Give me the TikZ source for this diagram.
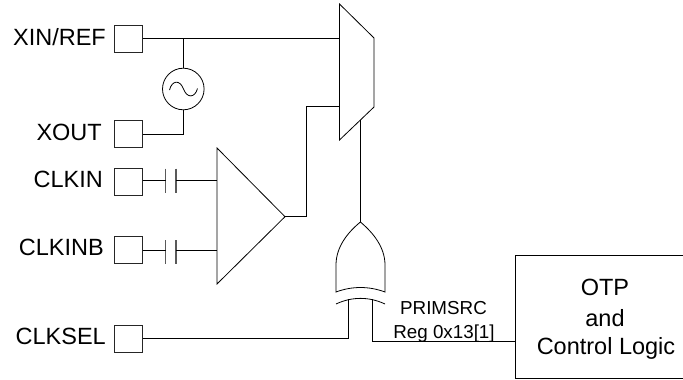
\documentclass[tikz,border=0pt]{standalone}
\usepackage{fontspec}
\setmainfont{Liberation Sans}
\begin{document}
\begin{tikzpicture}[x=1pt,y=-1pt,
  wire/.style={line width=0.8pt,black,line join=miter},
  plate/.style={line width=1.1pt,black!65},
  pad/.style={draw,line width=0.8pt,black!85,rectangle,minimum width=28pt,minimum height=27pt,inner sep=0pt},
  pinlabel/.style={anchor=base east,inner sep=0pt,font=\fontsize{23.5pt}{28pt}\selectfont},
  reglabel/.style={anchor=base,inner sep=0pt,font=\fontsize{18.8pt}{22pt}\selectfont},
  bigtext/.style={anchor=base,inner sep=0pt,font=\fontsize{23.5pt}{28pt}\selectfont}]
\clip (0,0) rectangle (683,380);
\fill[white] (0,0) rectangle (683,380);
% pads
\node[pad] (xin) at (128.5,39) {};
\node[pad] (xout) at (128.5,134.3) {};
\node[pad] (clkin) at (128.5,182) {};
\node[pad] (clkinb) at (128.5,250) {};
\node[pad] (clksel) at (128.5,338.7) {};
% labels
\node[pinlabel] (lxin) at (106,45) {XIN/REF};
\node[pinlabel] (lxout) at (102,140) {XOUT};
\node[pinlabel] (lclkin) at (103,187.7) {CLKIN};
\node[pinlabel] (lclkinb) at (104,255) {CLKINB};
\node[pinlabel] (lclksel) at (106,344) {CLKSEL};
% oscillator
\node[draw,circle,line width=0.8pt,minimum size=41.6pt,inner sep=0pt] (osc) at (183.3,89) {};
\draw[wire] (169.5,90) .. controls (172,80) and (180,79.5) .. (183.5,89) .. controls (187,98.5) and (195,98) .. (197.5,88.5);
% mux
\coordinate (muxin1) at (339.5,38.5);
\coordinate (muxin2) at (339.5,106.7);
\coordinate (muxsel) at (360.3,120);
\draw[wire] (339.5,4) -- (374,38) -- (374,107) -- (339.5,140) -- cycle;
% amplifier
\coordinate (ampin1) at (217,180);
\coordinate (ampin2) at (217,250.3);
\coordinate (ampout) at (285,216.7);
\draw[wire] (217,148) -- (ampout) -- (217,284) -- cycle;
% capacitors
\coordinate (c1a) at (165.7,180); \coordinate (c1b) at (176,180);
\coordinate (c2a) at (165.7,250.3); \coordinate (c2b) at (176,250.3);
\draw[plate] (165.7,168.5) -- (165.7,192.7) (176,168.5) -- (176,192.7);
\draw[plate] (165.7,240) -- (165.7,264) (176,240) -- (176,264);
% xor gate
\coordinate (xortip) at (360.4,222);
\coordinate (xorin1) at (348.3,299);
\coordinate (xorin2) at (372.7,299);
\draw[wire] (336,292) -- (336,264) .. controls (336.5,247) and (347,233) .. (xortip)
  .. controls (373.5,233) and (384.5,247) .. (385,264) -- (385,292)
  .. controls (369,286) and (352,286) .. (336,292) -- cycle;
\draw[wire] (336,304) .. controls (352,296.5) and (369,296.5) .. (385,304);
% OTP box
\node[draw,line width=0.8pt,rectangle,minimum width=179pt,minimum height=123.2pt,inner sep=0pt] (otp) at (605,317.1) {};
\node[bigtext] (t1) at (605,295.7) {OTP};
\node[bigtext] (t2) at (605,326) {and};
\node[bigtext] (t3) at (606,354.3) {Control Logic};
\node[reglabel] (r1) at (443.5,314.3) {PRIMSRC};
\node[reglabel] (r2) at (444,338.3) {Reg 0x13[1]};
% wires
\coordinate (jct) at (183.3,38.5);
\draw[wire] (xin.east |- muxin1) -- (jct) -- (muxin1);
\draw[wire] (jct) -- (osc.north);
\draw[wire] (osc.south) |- (xout.east);
\draw[wire] (clkin.east |- c1a) -- (c1a);
\draw[wire] (c1b) -- (ampin1);
\draw[wire] (clkinb.east |- c2a) -- (c2a);
\draw[wire] (c2b) -- (ampin2);
\draw[wire] (ampout) -| (306,106.7) -- (muxin2);
\draw[wire] (muxsel) -- (muxsel |- xortip);
\draw[wire] (clksel.east |- 0,338.3) -| (xorin1);
\draw[wire] (xorin2) |- (otp.west |- 0,341);
\end{tikzpicture}
\end{document}
